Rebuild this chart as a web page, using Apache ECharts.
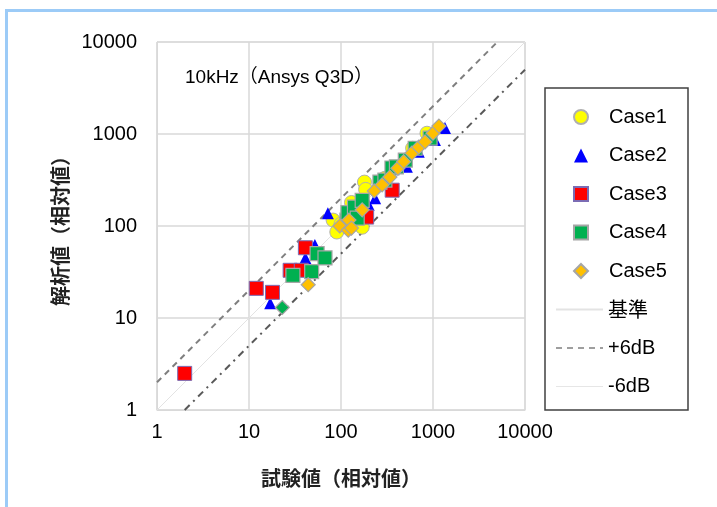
<!DOCTYPE html>
<html>
<head>
<meta charset="utf-8">
<script src="https://cdn.jsdelivr.net/npm/echarts@6/dist/echarts.min.js"></script>
<style>
  html, body { margin: 0; padding: 0; background: #fff; }
  #frame { position: absolute; left: 5px; top: 9px; width: 712px; height: 498px;
           border-top: 3px solid #9ccbf7; border-left: 3px solid #9ccbf7; box-sizing: border-box; }
  #chart { position: absolute; left: 0; top: 0; width: 717px; height: 507px; }
</style>
</head>
<body>
<div id="frame"></div>
<div id="chart"></div>
<script>
// [試験値, 解析値]
const case1 = [[82, 116], [90, 86], [100, 105], [130, 180], [170, 97], [180, 300], [185, 250], [300, 330], [600, 700], [860, 1020]]
const case2 = [[17, 14.5], [41, 45], [52, 62], [72, 138], [200, 170], [235, 200], [330, 300], [520, 440], [700, 640], [1050, 860], [1000, 905], [1350, 1160]]
const case3 = [[2, 2.5], [12, 21], [18, 19], [28, 33], [37, 33], [41, 58], [150, 140], [190, 125], [360, 245]]
const case4 = [[30, 29], [48, 32], [55, 50], [67, 45], [116, 116], [119, 140], [140, 160], [150, 122], [170, 190], [265, 300], [300, 316], [358, 427], [400, 440], [500, 520], [640, 700], [930, 900]]
const case4Diamond = [23, 13]
const case5 = [[44, 23], [97, 100], [120, 90], [122, 116], [130, 95], [170, 150], [230, 240], [280, 280], [340, 340], [415, 425], [480, 500], [590, 620], [700, 720], [820, 820], [1000, 1020], [1160, 1220]]
const refLine = [[1, 1], [10000, 10000]]
const plusLine = [[1, 2], [5000, 10000]]
const minusLine = [[2, 1], [10000, 5000]]
const axisTicks = [1, 10, 100, 1000, 10000]

const font = 'Liberation Sans, Arial, Noto Sans CJK JP, sans-serif'
const jpFont = 'Noto Sans CJK JP, sans-serif'
const noDot = { color: 'rgba(0,0,0,0)', borderWidth: 0 }

const chart = echarts.init(document.getElementById('chart'))
const option = {
  animation: false,
  title: {
    text: '10kHz（Ansys Q3D）',
    left: 180,
    top: 63,
    textStyle: { fontFamily: font, fontSize: 19, fontWeight: 'normal', color: '#000' }
  },
  graphic: [{
    type: 'rect',
    shape: { x: 545, y: 88, width: 143, height: 322 },
    style: { fill: 'none', stroke: '#404040', lineWidth: 1.5 },
    z: 10
  }],
  grid: { left: 157, right: 192, top: 42, bottom: 97, show: true, borderColor: '#d9d9d9', borderWidth: 1 },
  legend: [
    {
      // markers
      orient: 'vertical',
      left: 573,
      top: 107,
      padding: 0,
      itemWidth: 14,
      itemHeight: 14,
      itemGap: 18.5,
      textStyle: { fontFamily: font, fontSize: 20, lineHeight: 20, color: '#000', padding: [0, 0, 0, 16] },
      data: ['Case1', 'Case2', 'Case3', 'Case4', 'Case5']
    },
    {
      // lines
      orient: 'vertical',
      left: 555,
      top: 299.5,
      padding: 0,
      itemWidth: 47,
      itemHeight: 14,
      itemGap: 18.5,
      textStyle: { fontFamily: font, fontSize: 20, lineHeight: 20, color: '#000' },
      data: [
        { name: '基準', itemStyle: noDot, textStyle: { fontFamily: jpFont, fontSize: 20 } },
        { name: '+6dB', itemStyle: noDot, lineStyle: { width: 1.5 } },
        { name: '-6dB', itemStyle: noDot, lineStyle: { color: '#e6e6e6', type: 'solid', width: 1 } }
      ]
    }
  ],
  xAxis: {
    type: 'log',
    logBase: 10,
    min: axisTicks[0],
    max: axisTicks[axisTicks.length - 1],
    name: '試験値（相対値）',
    nameLocation: 'middle',
    nameGap: 58,
    nameTextStyle: { fontFamily: jpFont, fontSize: 20, fontWeight: 'bold', color: '#222' },
    axisLine: { lineStyle: { color: '#d9d9d9' } },
    axisTick: { show: false },
    axisLabel: { fontFamily: font, fontSize: 20, color: '#000', margin: 12, formatter: v => String(v) },
    splitLine: { lineStyle: { color: '#d9d9d9', width: 1.5 } }
  },
  yAxis: {
    type: 'log',
    logBase: 10,
    min: axisTicks[0],
    max: axisTicks[axisTicks.length - 1],
    name: '解析値（相対値）',
    nameLocation: 'middle',
    nameRotate: 90,
    nameGap: 85,
    nameTextStyle: { fontFamily: jpFont, fontSize: 20, fontWeight: 'bold', color: '#222' },
    axisLine: { lineStyle: { color: '#d9d9d9' } },
    axisTick: { show: false },
    axisLabel: { fontFamily: font, fontSize: 20, color: '#000', margin: 20, formatter: v => String(v) },
    splitLine: { lineStyle: { color: '#d9d9d9', width: 1.5 } }
  },
  series: [
    {
      name: '基準', type: 'line', data: refLine, symbol: 'none', z: 1,
      lineStyle: { color: '#e3e3e3', width: 1 }
    },
    {
      name: '+6dB', type: 'line', data: plusLine, symbol: 'none', z: 1,
      lineStyle: { color: '#7f7f7f', width: 2, type: [6, 5] }
    },
    {
      name: '-6dB', type: 'line', data: minusLine, symbol: 'none', z: 1,
      lineStyle: { color: '#595959', width: 2, type: [7, 5, 2, 5] }
    },
    {
      name: 'Case1', type: 'scatter', data: case1, symbol: 'circle', symbolSize: 14, z: 2,
      itemStyle: { color: '#ffff00', borderColor: '#b0b0b0', borderWidth: 1, opacity: 1 }
    },
    {
      name: 'Case2', type: 'scatter', data: case2, symbol: 'triangle', symbolSize: 12, z: 3,
      itemStyle: { color: '#0000ff', opacity: 1 }
    },
    {
      name: 'Case3', type: 'scatter', data: case3, symbol: 'rect', symbolSize: 14, z: 4,
      itemStyle: { color: '#ff0000', borderColor: '#7b6cb4', borderWidth: 1, opacity: 1 }
    },
    {
      name: 'Case4', type: 'scatter', symbol: 'rect', symbolSize: 14, z: 5,
      data: case4.concat([{ value: case4Diamond, symbol: 'diamond', symbolSize: 14 }]),
      itemStyle: { color: '#00b050', borderColor: '#a6a6a6', borderWidth: 1.2, opacity: 1 }
    },
    {
      name: 'Case5', type: 'scatter', data: case5, symbol: 'diamond', symbolSize: 14, z: 6,
      itemStyle: { color: '#ffc000', borderColor: '#a6a6a6', borderWidth: 1.2, opacity: 1 }
    }
  ]
}
chart.setOption(option)
</script>
</body>
</html>
